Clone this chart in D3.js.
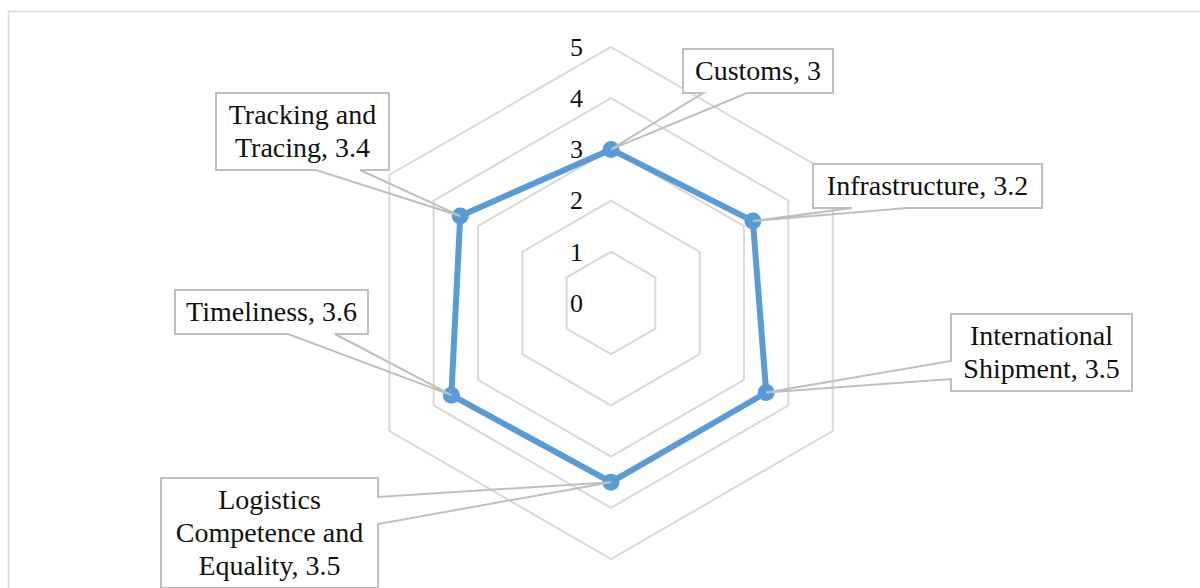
<!DOCTYPE html>
<html>
<head>
<meta charset="utf-8">
<script src="https://cdn.jsdelivr.net/npm/d3@7"></script>
<style>
  html, body { margin: 0; padding: 0; background: #fff; }
  svg { display: block; }
  text { font-family: "Liberation Serif", "DejaVu Serif", serif; fill: #111; }
</style>
</head>
<body>
<div id="chart"></div>
<script>
// Data
const categories = ["Customs", "Infrastructure", "International Shipment",
  "Logistics Competence and Equality", "Timeliness", "Tracking and Tracing"];
const scores = [3, 3.2, 3.5, 3.5, 3.6, 3.4];
const tickLevels = [0, 1, 2, 3, 4, 5];

// Label text split into lines, same order as categories
const labelLines = [
  ["Customs, 3"],
  ["Infrastructure, 3.2"],
  ["International", "Shipment, 3.5"],
  ["Logistics", "Competence and", "Equality, 3.5"],
  ["Timeliness, 3.6"],
  ["Tracking and", "Tracing, 3.4"]
];

// Callout boxes (layout only): box, edge the pointer leaves from, pointer base
const callouts = [
  { x: 683, y: 49, w: 150, edge: "bottom", b0: 703, b1: 747 },
  { x: 813, y: 164, w: 229, edge: "bottom", b0: 852, b1: 907 },
  { x: 951, y: 314, w: 181, edge: "left", b0: 361, b1: 379 },
  { x: 161, y: 478, w: 217, edge: "right", b0: 497, b1: 524 },
  { x: 175, y: 290, w: 193, edge: "bottom", b0: 288, b1: 335 },
  { x: 216, y: 93, w: 173, edge: "bottom", b0: 316, b1: 360 }
];

const width = 1200, height = 588;
const cx = 611, cy = 303;
const lineH = 33;

const svg = d3.select("#chart").append("svg")
  .attr("width", width)
  .attr("height", height);

// Chart area frame
svg.append("rect")
  .attr("x", 8.5).attr("y", 11.5)
  .attr("width", 1250).attr("height", 650)
  .attr("fill", "none")
  .attr("stroke", "#d9d9d9")
  .attr("stroke-width", 1.5);

const r = d3.scaleLinear().domain([0, 5]).range([0, 256]);
const angle = d3.scalePoint().domain(d3.range(categories.length + 1))
  .range([0, 2 * Math.PI]);

const g = svg.append("g").attr("transform", `translate(${cx},${cy})`);

const radial = d3.lineRadial()
  .angle((d, i) => angle(i))
  .radius(d => r(d))
  .curve(d3.curveLinearClosed);

// Grid rings
g.selectAll(".ring")
  .data(tickLevels.filter(d => d > 0))
  .enter()
  .append("path")
  .attr("class", "ring")
  .attr("d", lv => radial(categories.map(() => lv)))
  .attr("fill", "none")
  .attr("stroke", "#d9d9d9")
  .attr("stroke-width", 2);

// Tick labels
g.selectAll(".tick")
  .data(tickLevels)
  .enter()
  .append("text")
  .attr("class", "tick")
  .attr("x", -28)
  .attr("y", d => -r(d))
  .attr("dy", "0.34em")
  .attr("text-anchor", "end")
  .style("font-size", "26px")
  .text(d => d);

// Series
g.append("path")
  .attr("d", radial(scores))
  .attr("fill", "none")
  .attr("stroke", "#5b9bd5")
  .attr("stroke-width", 6)
  .attr("stroke-linejoin", "round");

const pt = (v, i) => {
  const a = angle(i);
  return [cx + r(v) * Math.sin(a), cy - r(v) * Math.cos(a)];
};

svg.selectAll(".marker")
  .data(scores)
  .enter()
  .append("circle")
  .attr("class", "marker")
  .attr("cx", (d, i) => pt(d, i)[0])
  .attr("cy", (d, i) => pt(d, i)[1])
  .attr("r", 8.5)
  .attr("fill", "#5b9bd5");

// Data label callouts
const labels = svg.selectAll(".label")
  .data(scores)
  .enter()
  .append("g")
  .attr("class", "label");

labels.each(function (d, i) {
  const c = callouts[i];
  const lines = labelLines[i];
  const h = 11 + lines.length * lineH;
  const [ax, ay] = pt(d, i);
  const x0 = c.x, y0 = c.y, x1 = c.x + c.w, y1 = c.y + h;
  const sel = d3.select(this);

  sel.append("rect")
    .attr("x", x0).attr("y", y0)
    .attr("width", c.w).attr("height", h)
    .attr("fill", "#fff");

  const p = d3.path();
  p.moveTo(x0, y0);
  p.lineTo(x1, y0);
  if (c.edge === "right") {
    p.lineTo(x1, c.b0); p.lineTo(ax, ay); p.lineTo(x1, c.b1);
  }
  p.lineTo(x1, y1);
  if (c.edge === "bottom") {
    p.lineTo(c.b1, y1); p.lineTo(ax, ay); p.lineTo(c.b0, y1);
  }
  p.lineTo(x0, y1);
  if (c.edge === "left") {
    p.lineTo(x0, c.b1); p.lineTo(ax, ay); p.lineTo(x0, c.b0);
  }
  p.closePath();

  sel.append("path")
    .attr("d", p.toString())
    .attr("fill", "none")
    .attr("stroke", "#bfbfbf")
    .attr("stroke-width", 2)
    .attr("stroke-linejoin", "miter");

  sel.selectAll("text")
    .data(lines)
    .enter()
    .append("text")
    .attr("x", (x0 + x1) / 2)
    .attr("y", (t, j) => y0 + 31 + j * lineH)
    .attr("text-anchor", "middle")
    .style("font-size", "28px")
    .text(t => t);
});
</script>
</body>
</html>
